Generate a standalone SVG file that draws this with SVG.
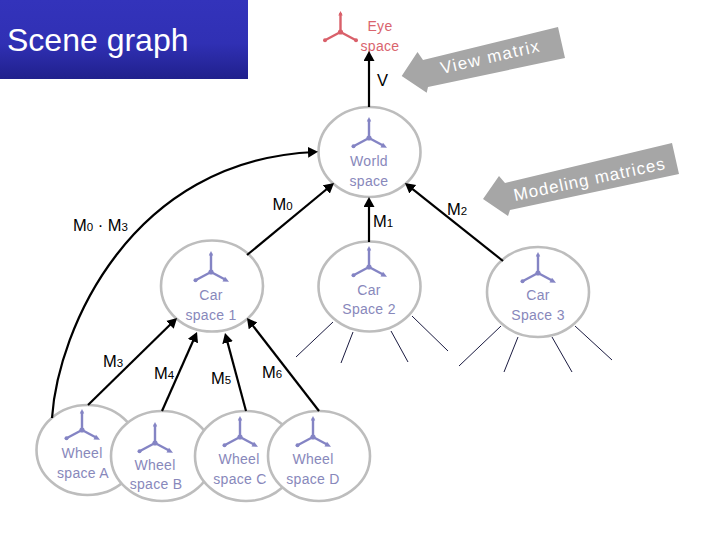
<svg xmlns="http://www.w3.org/2000/svg" xmlns:xlink="http://www.w3.org/1999/xlink" width="720" height="540" viewBox="0 0 720 540">
<style>
text{font-family:"Liberation Sans",Arial,sans-serif}
.c{fill:#fff;stroke:#bdbdbd;stroke-width:2.6}
.n{font-size:14px;fill:#8888bb;text-anchor:middle;letter-spacing:.3px}
.e{font-size:14px;fill:#d9646e;text-anchor:middle;letter-spacing:.3px}
.m{font-size:16.5px;fill:#000}
.s{font-size:11.5px}
.k{fill:none;stroke:#000;stroke-width:2.2}
.t{fill:none;stroke:#1a1a40;stroke-width:1}
.g{fill:#a6a6a6}
.w{font-size:17px;fill:#fff}
.ax{fill:none;stroke-width:2.4}
</style>
<defs>
<linearGradient id="tb" x1="0" y1="0" x2="0" y2="1">
<stop offset="0" stop-color="#3333bb"/><stop offset=".55" stop-color="#3030b4"/><stop offset="1" stop-color="#20208c"/>
</linearGradient>
<marker id="a" markerUnits="userSpaceOnUse" markerWidth="12" markerHeight="12" refX="7" refY="5.5" orient="auto"><path d="M0 0L10 5.5L0 11z" fill="#000"/></marker>
<g id="ib" class="ax" stroke="#8484c4">
<path d="M0 0V-19M0 0L-15 8M0 0L15 8"/>
<path d="M0 -21L2.200 -16.500H-2.200z" fill="#8484c4" stroke="none"/>
<circle cx="0" cy="0" r="2.600" fill="#8484c4" stroke="none"/>
<circle cx="-15.500" cy="8.300" r="2" fill="#8484c4" stroke="none"/>
<path d="M18 9.800L11.500 9.600L14 4.800z" fill="#8484c4" stroke="none"/>
</g>
<g id="ie" class="ax" stroke="#d9606a">
<path d="M0 0V-19M0 0L-15 8M0 0L15 8"/>
<path d="M0 -21L2.200 -16.500H-2.200z" fill="#d9606a" stroke="none"/>
<circle cx="0" cy="0" r="2.600" fill="#d9606a" stroke="none"/>
<circle cx="-15.500" cy="8.300" r="2" fill="#d9606a" stroke="none"/>
<circle cx="15.500" cy="8.300" r="2" fill="#d9606a" stroke="none"/>
</g>
</defs>
<rect width="720" height="540" fill="#fff"/>
<g id="title">
<rect x="0" y="0" width="248" height="79" fill="url(#tb)"/>
<text x="7" y="50.500" font-size="32" fill="#fff">Scene graph</text>
</g>
<g id="eye"><use href="#ie" x="340.500" y="32"/>
<text class="e" x="380" y="31">Eye</text><text class="e" x="380" y="51">space</text></g>
<g id="world"><ellipse class="c" cx="369.500" cy="152" rx="51" ry="45"/><use href="#ib" x="369" y="138"/>
<text class="n" x="369" y="166">World</text><text class="n" x="369" y="186">space</text></g>
<g id="car1"><ellipse class="c" cx="212" cy="286" rx="51" ry="45.500"/><use href="#ib" x="211" y="272"/>
<text class="n" x="211" y="300">Car</text><text class="n" x="211" y="320">space 1</text></g>
<g id="car2"><ellipse class="c" cx="369.500" cy="286.500" rx="51" ry="45"/><use href="#ib" x="369" y="267"/>
<text class="n" x="369" y="295">Car</text><text class="n" x="369" y="314">Space 2</text></g>
<g id="car3"><ellipse class="c" cx="538" cy="292" rx="51" ry="45"/><use href="#ib" x="538" y="273"/>
<text class="n" x="538" y="300">Car</text><text class="n" x="538" y="320">Space 3</text></g>
<g id="wheelA"><ellipse class="c" cx="87.500" cy="450" rx="51" ry="45"/><use href="#ib" x="82" y="430"/>
<text class="n" x="82" y="458">Wheel</text><text class="n" x="83" y="478">space A</text></g>
<g id="wheelB"><ellipse class="c" cx="162" cy="456" rx="51" ry="45"/><use href="#ib" x="155" y="443"/>
<text class="n" x="155" y="470">Wheel</text><text class="n" x="156" y="489">space B</text></g>
<g id="wheelC"><ellipse class="c" cx="246" cy="456" rx="51" ry="45"/><use href="#ib" x="240" y="437"/>
<text class="n" x="239" y="464">Wheel</text><text class="n" x="240" y="484">space C</text></g>
<g id="wheelD"><ellipse class="c" cx="319" cy="456" rx="51" ry="45"/><use href="#ib" x="313" y="437"/>
<text class="n" x="313" y="464">Wheel</text><text class="n" x="313" y="484">space D</text></g>
<g id="connectors">
<path class="k" marker-end="url(#a)" d="M369 107V54"/>
<path class="k" marker-end="url(#a)" d="M52 418C58 330 130 160 315 152"/>
<path class="k" marker-end="url(#a)" d="M247 255L331.700 185"/>
<path class="k" marker-end="url(#a)" d="M369 242V200"/>
<path class="k" marker-end="url(#a)" d="M503 261L407.300 184.900"/>
<path class="k" marker-end="url(#a)" d="M88 405L174.900 320"/>
<path class="k" marker-end="url(#a)" d="M162 411L195.800 334.700"/>
<path class="k" marker-end="url(#a)" d="M246 411L225.800 335.900"/>
<path class="k" marker-end="url(#a)" d="M319 411L248.800 320.400"/>
<path class="t" d="M333 322L296 357M353 332L341 363M391 331L408 362M412 316L448 351"/>
<path class="t" d="M501 326L459 366M518 337L504 372M552 337L572 372M575 326L612 360"/>
</g>
<g id="labels">
<text class="m" x="377" y="86">V</text>
<text class="m" x="272.500" y="210">M<tspan class="s">0</tspan></text>
<text class="m" x="73" y="231">M<tspan class="s">0</tspan> · M<tspan class="s">3</tspan></text>
<text class="m" x="373" y="227">M<tspan class="s">1</tspan></text>
<text class="m" x="447" y="215">M<tspan class="s">2</tspan></text>
<text class="m" x="103" y="367">M<tspan class="s">3</tspan></text>
<text class="m" x="154" y="379">M<tspan class="s">4</tspan></text>
<text class="m" x="211" y="384">M<tspan class="s">5</tspan></text>
<text class="m" x="262" y="378">M<tspan class="s">6</tspan></text>
</g>
<g id="view-matrix">
<path class="g" d="M401.700 76L417.500 52L423 60L558 27L565 58L428 87L426.700 92.700z"/>
<text class="w" transform="translate(442 74) rotate(-13)" letter-spacing="1.300">View matrix</text>
</g>
<g id="modeling-matrices">
<path class="g" d="M483 199L499 176L505 183L672 143L679 174L510 210L508 216z"/>
<text class="w" transform="translate(515 201) rotate(-12)" letter-spacing="1">Modeling matrices</text>
</g>
</svg>
